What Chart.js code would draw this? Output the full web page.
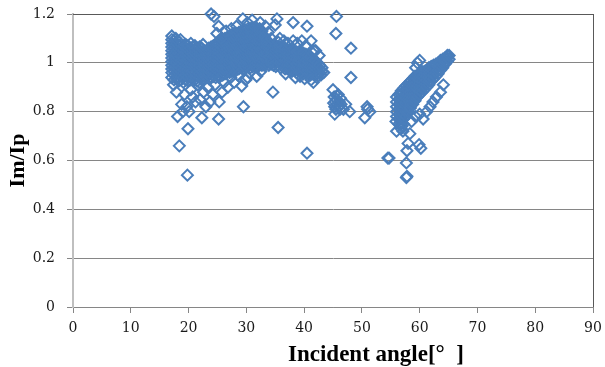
<!DOCTYPE html>
<html><head><meta charset="utf-8">
<script src="https://cdn.jsdelivr.net/npm/chart.js@4/dist/chart.umd.min.js"></script>
<style>html,body{margin:0;padding:0;background:#fff;}#wrap{width:605px;height:367px;}</style>
</head><body><div id="wrap"><canvas id="c" width="605" height="367"></canvas></div>
<script>
// ---- axis settings / labels ----
const xTitle = 'Incident angle[\u00b0\u2002]';
const yTitle = 'Im/Ip';
const xTickValues = [0,10,20,30,40,50,60,70,80,90];
const yTickLabels = ['0','0.2','0.4','0.6','0.8','1','1.2'];

// ---- main dense group (incident angle columns, Im/Ip values) ----
const mainAngles = [17.1,17.5,17.9,18.3,18.7,19.1,19.5,19.9,20.3,20.7,21.1,21.5,21.9,22.3,22.7,23.1,23.5,23.9,24.3,24.7,25.1,25.5,25.9,26.3,26.7,27.1,27.5,27.9,28.3,28.7,29.1,29.5,29.9,30.3,30.7,31.1,31.5,31.9,32.3,32.7,33.1,33.5,33.9,34.3,34.7,35.1,35.5,35.9,36.3,36.7,37.1,37.5,37.9,38.3,38.7,39.1,39.5,39.9,40.3,40.7,41.1,41.5,41.9,42.3,42.7,43.1];
const mainValues = [
 [0.94,0.96,0.975,0.99,1.005,1.02,1.035,1.05,1.065,1.08,1.095],
 [0.93,0.95,0.965,0.98,0.995,1.01,1.03,1.045,1.06,1.075,1.09],
 [0.935,0.955,0.97,0.985,1.0,1.015,1.03,1.05,1.065,1.08],
 [0.925,0.94,0.96,0.975,0.99,1.005,1.02,1.04,1.055,1.07,1.085],
 [0.93,0.945,0.965,0.98,0.995,1.01,1.025,1.04,1.06,1.075],
 [0.92,0.94,0.955,0.97,0.99,1.005,1.02,1.035,1.05,1.07],
 [0.93,0.95,0.965,0.98,0.995,1.01,1.03,1.045,1.06,1.075],
 [0.925,0.94,0.96,0.975,0.99,1.01,1.025,1.04,1.055,1.07],
 [0.93,0.95,0.97,0.985,1.0,1.015,1.03,1.045,1.06],
 [0.935,0.955,0.97,0.985,1.0,1.02,1.035,1.05,1.065],
 [0.93,0.945,0.96,0.98,0.995,1.01,1.025,1.04,1.055,1.07],
 [0.925,0.945,0.965,0.98,0.995,1.01,1.03,1.045,1.06],
 [0.92,0.94,0.955,0.975,0.99,1.005,1.02,1.035,1.05,1.065],
 [0.93,0.95,0.965,0.98,1.0,1.015,1.03,1.045,1.06],
 [0.935,0.95,0.97,0.985,1.0,1.015,1.03,1.05],
 [0.94,0.955,0.97,0.99,1.005,1.02,1.035,1.05],
 [0.935,0.955,0.97,0.985,1.0,1.02,1.035,1.05,1.06],
 [0.94,0.96,0.975,0.99,1.005,1.02,1.04,1.055,1.065],
 [0.945,0.96,0.98,0.995,1.01,1.025,1.04,1.055,1.07],
 [0.94,0.955,0.975,0.99,1.005,1.02,1.035,1.05,1.065,1.075],
 [0.95,0.965,0.98,0.995,1.01,1.03,1.045,1.06,1.075,1.085],
 [0.945,0.96,0.975,0.99,1.01,1.025,1.04,1.055,1.07,1.09],
 [0.95,0.97,0.985,1.0,1.015,1.03,1.045,1.065,1.08,1.095],
 [0.955,0.97,0.99,1.005,1.02,1.035,1.05,1.07,1.085,1.1],
 [0.96,0.975,0.99,1.005,1.02,1.04,1.055,1.07,1.09,1.105],
 [0.96,0.98,0.995,1.01,1.03,1.045,1.06,1.075,1.09,1.11],
 [0.965,0.98,1.0,1.015,1.03,1.05,1.065,1.08,1.1,1.115],
 [0.97,0.985,1.0,1.02,1.035,1.05,1.07,1.085,1.1,1.12],
 [0.97,0.99,1.005,1.02,1.04,1.055,1.07,1.09,1.105,1.12],
 [0.975,0.99,1.01,1.025,1.04,1.06,1.075,1.09,1.11,1.125],
 [0.98,0.995,1.01,1.03,1.045,1.06,1.08,1.095,1.11,1.13],
 [0.975,0.99,1.01,1.025,1.045,1.06,1.08,1.095,1.115,1.135],
 [0.98,1.0,1.015,1.03,1.05,1.065,1.085,1.1,1.12,1.135],
 [0.985,1.0,1.02,1.035,1.055,1.07,1.085,1.105,1.12,1.14],
 [0.98,1.0,1.015,1.035,1.05,1.07,1.09,1.105,1.125,1.14],
 [0.985,1.005,1.02,1.04,1.055,1.075,1.09,1.11,1.125,1.145],
 [0.99,1.005,1.025,1.04,1.06,1.075,1.095,1.11,1.13,1.145],
 [0.985,1.0,1.02,1.04,1.055,1.075,1.09,1.11,1.125,1.14],
 [0.99,1.005,1.025,1.04,1.06,1.08,1.095,1.115,1.13,1.14],
 [0.99,1.01,1.025,1.045,1.06,1.08,1.1,1.115,1.13],
 [0.99,1.005,1.025,1.04,1.06,1.075,1.095,1.11],
 [0.995,1.01,1.03,1.045,1.065,1.08,1.095],
 [0.99,1.01,1.025,1.045,1.06,1.08],
 [0.995,1.01,1.03,1.045,1.06,1.075],
 [0.99,1.005,1.025,1.04,1.055,1.07],
 [0.985,1.0,1.02,1.035,1.05,1.07],
 [0.99,1.005,1.02,1.04,1.055,1.065],
 [0.98,1.0,1.015,1.03,1.05,1.065],
 [0.985,1.0,1.02,1.035,1.05,1.06],
 [0.975,0.995,1.01,1.03,1.045,1.06],
 [0.975,0.99,1.01,1.025,1.04,1.055],
 [0.97,0.99,1.005,1.02,1.04,1.055],
 [0.965,0.985,1.0,1.02,1.035,1.05],
 [0.97,0.985,1.005,1.02,1.035,1.05],
 [0.96,0.98,0.995,1.015,1.03,1.045],
 [0.965,0.98,1.0,1.015,1.03,1.045],
 [0.96,0.975,0.995,1.01,1.025,1.04],
 [0.955,0.975,0.99,1.005,1.025,1.04],
 [0.96,0.975,0.99,1.01,1.025,1.035],
 [0.955,0.97,0.99,1.005,1.02,1.03],
 [0.95,0.97,0.985,1.0,1.015,1.025],
 [0.955,0.97,0.985,1.0,1.015],
 [0.95,0.965,0.98,0.995,1.01],
 [0.955,0.97,0.985,1.0],
 [0.96,0.975,0.99],
 [0.965,0.98]
];

// ---- right group (incident angle columns, Im/Ip values) ----
const rightAngles = [56.0,56.4,56.8,57.2,57.6,58.0,58.4,58.8,59.2,59.6,60.0,60.4,60.8,61.2,61.6,62.0,62.4,62.8,63.2,63.6,64.0,64.4,64.8,65.1];
const rightValues = [
 [0.78,0.80,0.82,0.84,0.86],
 [0.75,0.77,0.79,0.81,0.83,0.85,0.87],
 [0.73,0.75,0.77,0.79,0.81,0.83,0.85,0.87,0.885],
 [0.75,0.77,0.79,0.81,0.83,0.85,0.865,0.88,0.895],
 [0.78,0.80,0.82,0.835,0.855,0.87,0.89,0.905],
 [0.80,0.815,0.835,0.85,0.87,0.885,0.90,0.915],
 [0.815,0.83,0.85,0.865,0.88,0.895,0.91,0.925],
 [0.83,0.845,0.86,0.875,0.89,0.905,0.92,0.935],
 [0.845,0.86,0.875,0.89,0.905,0.92,0.935,0.945],
 [0.86,0.875,0.89,0.905,0.92,0.935,0.95],
 [0.87,0.885,0.90,0.915,0.93,0.945,0.955],
 [0.88,0.895,0.91,0.925,0.94,0.955,0.965],
 [0.89,0.905,0.92,0.935,0.95,0.965],
 [0.90,0.915,0.93,0.945,0.96,0.97],
 [0.91,0.925,0.94,0.955,0.97,0.98],
 [0.925,0.94,0.955,0.97,0.985],
 [0.935,0.95,0.965,0.98,0.99],
 [0.945,0.96,0.975,0.99,0.995],
 [0.955,0.97,0.985,1.0],
 [0.97,0.985,1.0,1.01],
 [0.98,0.995,1.01,1.015],
 [0.995,1.005,1.02],
 [1.005,1.02,1.03],
 [1.015,1.03]
];

// ---- middle group near 45-46 deg ----
const midAngles = [45.0,45.2,45.4,45.3,45.6,45.8,45.5,45.9,46.1,46.0,46.3,46.4,45.7,45.1,46.2,45.3,46.8,47.2];
const midValues = [0.89,0.86,0.84,0.82,0.85,0.83,0.81,0.87,0.84,0.82,0.855,0.83,0.865,0.835,0.81,0.79,0.81,0.83];

// ---- scattered points ----
const scatterAngles = [17.4,17.9,18.1,18.4,18.8,19.0,19.3,19.7,19.8,19.9,20.1,20.4,20.7,21.2,21.6,22.0,22.3,22.6,23.0,23.3,23.7,24.2,24.6,25.2,25.3,25.8,26.2,26.8,27.3,27.9,28.5,29.2,29.5,29.9,30.2,30.6,31.8,32.5,34.6,35.5,40.5,36.8,38.5,39.3,40.1,41.2,41.6,42.2,42.9,43.4,
 17.1,17.8,18.6,20.4,22.5,23.9,24.4,24.9,25.2,25.6,26.5,27.4,28.3,29.4,30.2,31.0,32.4,33.3,33.8,34.3,35.0,35.3,35.8,36.5,37.2,38.1,38.8,39.6,40.3,40.5,41.2,41.5,42.0,42.6,35.5,38.1,41.7,
 45.5,45.6,47.9,48.1,48.1,50.9,50.5,51.4,51.0,54.5,
 57.7,57.8,57.7,54.7,57.8,58.0,59.9,60.2,58.3,57.1,56.9,58.6,59.3,60.0,60.6,61.2,61.8,62.3,62.9,63.6,64.1,59.6,60.0,59.3,56.0,55.9];
const scatterValues = [0.91,0.88,0.78,0.66,0.83,0.80,0.87,0.82,0.54,0.73,0.80,0.89,0.86,0.84,0.91,0.85,0.775,0.88,0.82,0.90,0.84,0.87,0.91,0.77,0.84,0.88,0.92,0.90,0.94,0.92,0.95,0.905,0.82,0.93,0.94,0.96,0.945,0.965,0.88,0.735,0.63,0.955,0.94,0.945,0.935,0.93,0.92,0.94,0.95,0.96,
 1.11,1.10,1.095,1.08,1.075,1.20,1.19,1.12,1.15,1.10,1.13,1.14,1.15,1.18,1.165,1.175,1.165,1.15,1.125,1.10,1.155,1.18,1.10,1.09,1.08,1.165,1.08,1.09,1.07,1.15,1.09,1.04,1.05,1.03,1.085,1.09,1.05,
 1.12,1.19,0.80,0.94,1.06,0.82,0.775,0.80,0.81,0.61,
 0.53,0.535,0.59,0.61,0.64,0.67,0.665,0.65,0.71,0.72,0.74,0.76,0.78,0.79,0.77,0.80,0.82,0.84,0.86,0.88,0.91,1.00,1.01,0.98,0.72,0.76];

// ---- build point list from the arrays ----
const points = [];
mainAngles.forEach((a, i) => mainValues[i].forEach(v => points.push({x: a, y: v})));
rightAngles.forEach((a, i) => rightValues[i].forEach(v => points.push({x: a, y: v})));
midAngles.forEach((a, i) => points.push({x: a, y: midValues[i]}));
scatterAngles.forEach((a, i) => points.push({x: a, y: scatterValues[i]}));

const frame = {
  id: 'frame',
  beforeDatasetsDraw(chart) {
    const {ctx, chartArea: a} = chart;
    ctx.save();
    ctx.strokeStyle = '#595959';
    ctx.lineWidth = 1;
    ctx.beginPath();
    ctx.moveTo(a.left, Math.round(a.top) + 0.5);
    ctx.lineTo(Math.round(a.right) + 1, Math.round(a.top) + 0.5);
    ctx.moveTo(Math.round(a.right) + 0.5, a.top);
    ctx.lineTo(Math.round(a.right) + 0.5, a.bottom);
    ctx.stroke();
    ctx.restore();
  },
  afterDraw(chart) {
    const {ctx} = chart;
    ctx.save();
    ctx.font = 'bold 23px "Liberation Serif"';
    ctx.fillStyle = '#000';
    ctx.textAlign = 'left';
    ctx.textBaseline = 'alphabetic';
    ctx.fillText(xTitle, 288, 361);
    ctx.restore();
  }
};

new Chart(document.getElementById('c'), {
  type: 'scatter',
  data: {
    datasets: [{
      data: points,
      pointStyle: 'rectRot',
      pointRadius: 5.5,
      pointBorderWidth: 2,
      borderColor: '#4A7EBB',
      pointBorderColor: '#4A7EBB',
      pointBackgroundColor: 'rgba(0,0,0,0)',
      backgroundColor: 'rgba(0,0,0,0)',
      showLine: false,
      clip: false
    }]
  },
  options: {
    responsive: false,
    devicePixelRatio: 1,
    animation: false,
    layout: {padding: {left: 0, top: 14, right: 12, bottom: 0}},
    plugins: {legend: {display: false}, tooltip: {enabled: false}},
    scales: {
      x: {
        type: 'linear', min: 0, max: 90,
        afterFit(s) { s.height = 60; s.paddingLeft = 0; s.paddingRight = 0; },
        afterBuildTicks(s) { s.ticks = xTickValues.map(v => ({value: v})); },
        ticks: {padding: 7, color: '#1a1a1a', font: {family: '"DejaVu Serif"', size: 14}},
        grid: {drawOnChartArea: false, drawTicks: true, tickLength: 6, color: '#868686'},
        border: {display: true, color: '#868686', width: 1}
      },
      y: {
        type: 'linear', min: 0, max: 1.2,
        afterFit(s) { s.width = 73; s.paddingTop = 0; s.paddingBottom = 0; },
        afterBuildTicks(s) { s.ticks = yTickLabels.map(t => ({value: parseFloat(t)})); },
        ticks: {padding: 12, color: '#1a1a1a', font: {family: '"DejaVu Serif"', size: 14},
          callback: (v, i) => yTickLabels[i]},
        grid: {color: '#868686', drawTicks: true, tickLength: 6},
        border: {display: true, color: '#BFBFBF', width: 2},
        title: {display: true, text: yTitle, color: '#000', padding: {top: 5, bottom: 0},
          font: {family: '"Liberation Serif"', size: 22, weight: 'bold'}}
      }
    }
  },
  plugins: [frame]
});
</script></body></html>
